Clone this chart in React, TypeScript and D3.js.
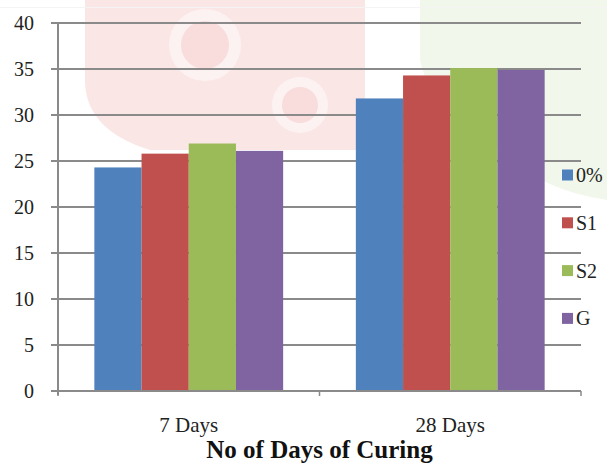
import React from "react";
import * as d3 from "d3";

const categories = ["7 Days", "28 Days"];
const seriesNames = ["0%", "S1", "S2", "G"];
const seriesColors = ["#4f81bd", "#c0504d", "#9bbb59", "#8064a2"];
const values0 = [24.3, 31.8];
const valuesS1 = [25.8, 34.3];
const valuesS2 = [26.9, 35.1];
const valuesG = [26.1, 34.9];
const yTicks = [0, 5, 10, 15, 20, 25, 30, 35, 40];

const W = 607;
const H = 463;
const left = 58;
const right = 581;
const top = 23;
const bottom = 391;

export default function App() {
  const series = [values0, valuesS1, valuesS2, valuesG];

  const x = d3.scaleBand().domain(categories).range([left, right]).paddingInner(0).paddingOuter(0);
  const inner = d3
    .scaleBand()
    .domain(seriesNames)
    .range([0, x.bandwidth()])
    .paddingOuter(0.77)
    .paddingInner(0);
  const y = d3.scaleLinear().domain([0, 40]).range([bottom, top]);

  const font = "'Liberation Serif', 'Times New Roman', serif";

  return (
    <svg width={W} height={H} style={{ position: "absolute", left: 0, top: 0, background: "#fff" }}>
      {/* faint watermark */}
      <path d="M85,0 H365 V150 H150 Q85,130 85,80 Z" fill="#fbe6e6" />
      <g fill="#fdf2f2">
        <circle cx={205} cy={45} r={36} />
        <circle cx={300} cy={105} r={28} />
      </g>
      <g fill="#f9dcdc">
        <circle cx={205} cy={45} r={24} />
        <circle cx={300} cy={105} r={18} />
      </g>
      <path d="M420,0 H607 V200 Q540,190 500,150 Q430,110 420,60 Z" fill="#f1f7ea" />
      <line x1={0} x2={W} y1={7.5} y2={7.5} stroke="#f4f4f4" strokeWidth={1} />

      {/* gridlines & y ticks */}
      {yTicks.map((t) => (
        <g key={t}>
          <line x1={51} x2={right} y1={y(t)} y2={y(t)} stroke="#8a8a8a" strokeWidth={2} />
          <text
            x={34}
            y={y(t)}
            dy="0.35em"
            textAnchor="end"
            fontFamily={font}
            fontSize={20}
            fill="#222"
          >
            {t}
          </text>
        </g>
      ))}

      {/* bars */}
      {categories.map((c, ci) => (
        <g key={c} transform={`translate(${x(c)},0)`}>
          {seriesNames.map((s, si) => (
            <rect
              key={s}
              x={inner(s)}
              y={y(series[si][ci])}
              width={inner.bandwidth()}
              height={bottom - y(series[si][ci])}
              fill={seriesColors[si]}
            />
          ))}
        </g>
      ))}

      {/* axes */}
      <line x1={left} x2={left} y1={top} y2={bottom + 4} stroke="#8a8a8a" strokeWidth={2} />
      <line x1={left} x2={right} y1={bottom} y2={bottom} stroke="#8a8a8a" strokeWidth={2} />
      {[left, left + x.bandwidth(), right].map((px, i) => (
        <line key={i} x1={px} x2={px} y1={bottom} y2={bottom + 5} stroke="#8a8a8a" strokeWidth={1.5} />
      ))}

      {/* x labels */}
      {categories.map((c) => (
        <text
          key={c}
          x={(x(c) as number) + x.bandwidth() / 2}
          y={432}
          textAnchor="middle"
          fontFamily={font}
          fontSize={21}
          fill="#222"
        >
          {c}
        </text>
      ))}
      <text
        x={(left + right) / 2}
        y={458}
        textAnchor="middle"
        fontFamily={font}
        fontSize={25}
        fontWeight="bold"
        fill="#111"
      >
        No of Days of Curing
      </text>

      {/* legend */}
      {seriesNames.map((s, i) => (
        <g key={s} transform={`translate(562,${175 + i * 47.8})`}>
          <rect x={0} y={-5.5} width={11} height={11} fill={seriesColors[i]} />
          <text x={14} y={0} dy="0.35em" fontFamily={font} fontSize={20} fill="#222">
            {s}
          </text>
        </g>
      ))}
    </svg>
  );
}
